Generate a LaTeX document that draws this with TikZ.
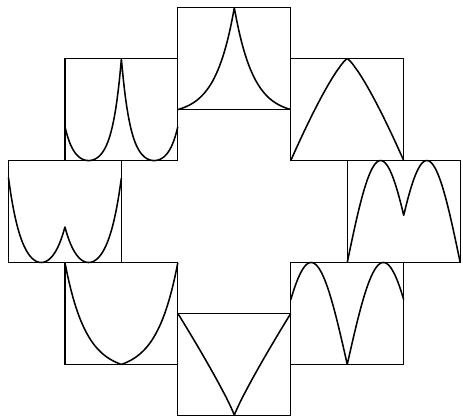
\documentclass[tikz,border=0pt]{standalone}
\usepackage{tikz}
\usetikzlibrary{positioning}

\tikzset{
  panel/.style={draw, line width=0.9pt, minimum width=2.825cm, minimum height=2.55cm, inner sep=0pt},
  graph/.style={line width=1.1pt, line join=round}
}

\begin{document}
\begin{tikzpicture}[x=1.4125cm, y=1.275cm]
        \useasboundingbox (-4.15,-4.02) rectangle (4.05,4.15);
        % Panels
        \node[panel] (top) at (0,3) {};
        \node[panel] (topright) at (2,2) {};
        \node[panel] (right) at (3,0) {};
        \node[panel] (botright) at (2,-2) {};
        \node[panel] (bot) at (0,-3) {};
        \node[panel] (botleft) at (-2,-2) {};
        \node[panel] (left) at (-3,0) {};
        \node[panel] (topleft) at (-2,2) {};
        % Curves
        \draw[graph, shift={(top.center)}] plot[domain=-1:1, samples=101] (\x, {-1+2*(exp(-3*abs(\x))-exp(-3))/(1-exp(-3))});
        \draw[graph, shift={(topright.center)}] plot[domain=-1:1, samples=101] (\x, {1-2*(abs(\x)+0.0001)^1.25});
        \draw[graph, shift={(right.center)}] plot[domain=-1:1, samples=101] (\x, {-1+2*sin(152.5*(1-abs(\x)))});
        \draw[graph, shift={(botright.center)}] plot[domain=-1:1, samples=101] (\x, {-1+2*abs(sin(140.6*\x))});
        \draw[graph, shift={(bot.center)}] plot[domain=-1:1, samples=101] (\x, {-1+2*(abs(\x)+0.0001)^0.9});
        \draw[graph, shift={(botleft.center)}] plot[domain=-1:1, samples=101] (\x, {-1+2*(exp(2.7*abs(\x))-1)/(exp(2.7)-1)});
        \draw[graph, shift={(left.center)}] plot[domain=-1:1, samples=101] (\x, {-1+0.338*(cosh(4.25*abs(abs(\x)-0.42))-1)});
        \draw[graph, shift={(topleft.center)}] plot[domain=-1:1, samples=101] (\x, {-1+2*(cosh(6.25*abs(abs(\x)-0.58))-1)/17.78});
    \end{tikzpicture}
\end{document}
